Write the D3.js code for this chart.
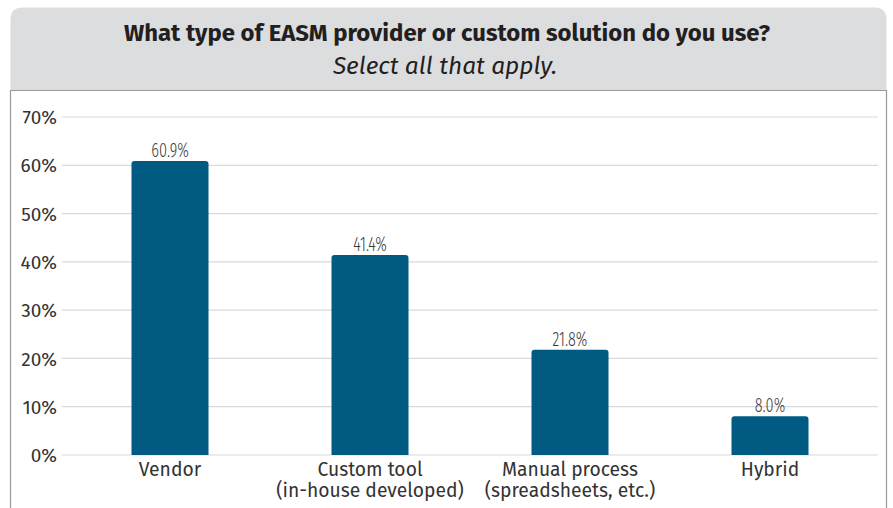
<!DOCTYPE html>
<html>
<head>
<meta charset="utf-8">
<script src="https://cdn.jsdelivr.net/npm/d3@7"></script>
<style>
  html, body { margin: 0; padding: 0; background: #ffffff; }
  svg { display: block; }
</style>
</head>
<body>
<svg id="chart" width="893" height="508"></svg>
<script>
// Survey responses: EASM provider / solution type
const categories = ["Vendor", "Custom tool\n(in-house developed)", "Manual process\n(spreadsheets, etc.)", "Hybrid"];
const values = [60.9, 41.4, 21.8, 8.0];
const yTicks = [0, 10, 20, 30, 40, 50, 60, 70];
const titleText = "What type of EASM provider or custom solution do you use?";
const subtitleText = "Select all that apply.";

const W = 893, H = 508;
const svg = d3.select("#chart");
const font = "'Fira Sans', 'Open Sans', 'Noto Sans', sans-serif";
const condFont = "'Fira Sans Condensed', 'Fira Sans', sans-serif";

// Panel frame with grey header
const panelL = 10.5, panelR = 886.5, headTop = 7.5, headBot = 90.5, r = 12;
svg.append("path")
  .attr("d", `M${panelL},${headBot} L${panelL},${headTop + r} Q${panelL},${headTop} ${panelL + r},${headTop}
              L${panelR - r},${headTop} Q${panelR},${headTop} ${panelR},${headTop + r} L${panelR},${headBot} Z`)
  .attr("fill", "#dcdddf");
svg.append("path")
  .attr("d", `M${panelL},${H + 2} L${panelL},${headBot} L${panelR},${headBot} L${panelR},${H + 2}`)
  .attr("fill", "none").attr("stroke", "#9a9a9a").attr("stroke-width", 1.2);

svg.append("text").attr("x", 447).attr("y", 41)
  .attr("text-anchor", "middle").attr("font-family", font)
  .attr("font-weight", 700).attr("font-size", 23.9).attr("fill", "#231f20")
  .text(titleText);
svg.append("text").attr("x", 445).attr("y", 74)
  .attr("text-anchor", "middle").attr("font-family", font)
  .attr("font-style", "italic").attr("font-size", 24.5).attr("fill", "#231f20")
  .text(subtitleText);

// Scales
const x = d3.scaleBand().domain(categories).range([70, 870])
  .paddingInner(0.615).paddingOuter(0.3075);
const y = d3.scaleLinear().domain([0, 70]).range([455, 117]);

// Gridlines
svg.append("g").selectAll("line").data(yTicks).join("line")
  .attr("x1", 62).attr("x2", 878)
  .attr("y1", d => y(d)).attr("y2", d => y(d))
  .attr("stroke", "#d9d9d9").attr("stroke-width", 1.2);

// Y axis labels
const yAxis = d3.axisLeft(y).tickValues(yTicks).tickFormat(d => d + "%").tickSize(0).tickPadding(0);
const yg = svg.append("g").attr("transform", "translate(57,0)").call(yAxis);
yg.select(".domain").remove();
yg.selectAll("text").attr("font-family", font).attr("font-size", 19).attr("fill", "#333")
  .attr("dy", "0.35em");

// Bars with rounded tops
const rr = 3;
svg.append("g").selectAll("path").data(values).join("path")
  .attr("fill", "#005a82")
  .attr("d", (v, i) => {
    const x0 = x(categories[i]), w = x.bandwidth(), y0 = y(v), yb = y(0);
    return `M${x0},${yb} L${x0},${y0 + rr} Q${x0},${y0} ${x0 + rr},${y0}
            L${x0 + w - rr},${y0} Q${x0 + w},${y0} ${x0 + w},${y0 + rr} L${x0 + w},${yb} Z`;
  });

// Value labels (condensed light figures)
svg.append("g").selectAll("text").data(values).join("text")
  .attr("transform", (v, i) => `translate(${x(categories[i]) + x.bandwidth() / 2},${y(v) - 4}) scale(0.8,1)`)
  .attr("text-anchor", "middle").attr("font-family", condFont)
  .attr("font-size", 20).attr("font-weight", 300).attr("fill", "#3d3d3d")
  .text(v => v.toFixed(1) + "%");

// Category labels
const xg = svg.append("g");
categories.forEach(c => {
  const t = xg.append("text")
    .attr("x", x(c) + x.bandwidth() / 2).attr("y", 476)
    .attr("text-anchor", "middle").attr("font-family", font)
    .attr("font-size", 19.3).attr("fill", "#333");
  c.split("\n").forEach((line, j) => {
    t.append("tspan").attr("x", x(c) + x.bandwidth() / 2).attr("dy", j === 0 ? 0 : 21).text(line);
  });
});
</script>
</body>
</html>
